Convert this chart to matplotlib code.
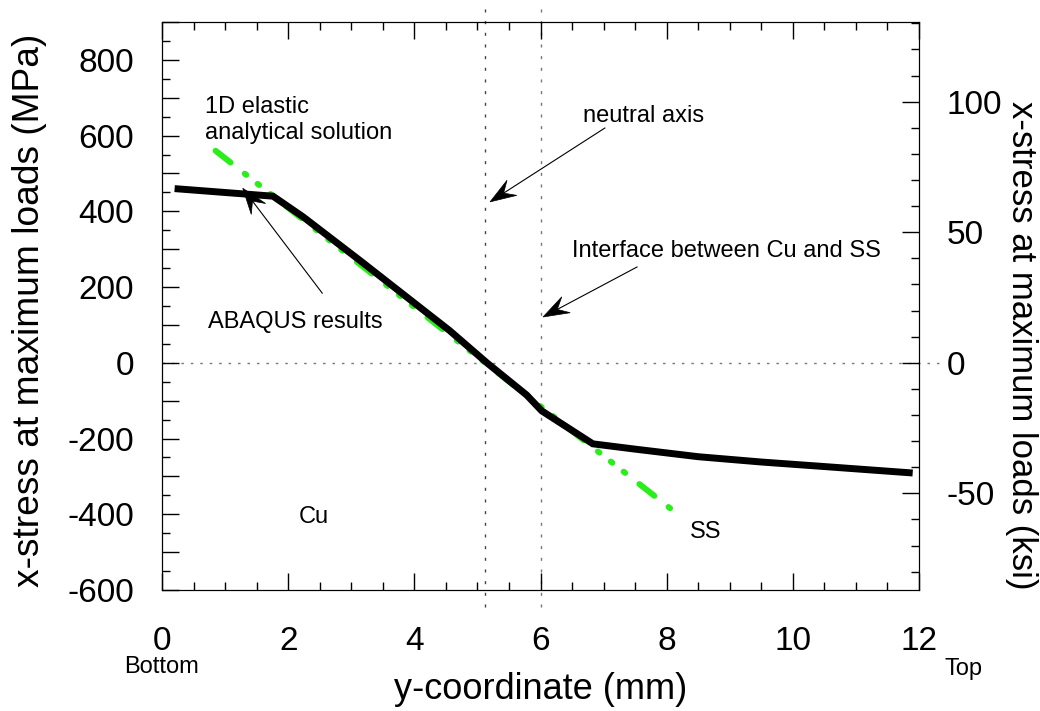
import numpy as np
import matplotlib
matplotlib.use("Agg")
import matplotlib.pyplot as plt
from matplotlib.ticker import MultipleLocator, FuncFormatter
from matplotlib.patches import Polygon
from matplotlib.transforms import IdentityTransform

plt.rcParams['font.family'] = ['Liberation Sans', 'DejaVu Sans']
plt.rcParams['axes.unicode_minus'] = False
plt.rcParams['lines.scale_dashes'] = False

# ABAQUS results (black)
abaqus_y = [0.2, 1.76, 2.24, 3.14, 4.56, 5.15, 5.78, 6.02, 6.83, 7.5, 8.5, 9.5, 10.5, 11.9]
abaqus_s = [460, 440, 385, 270, 85, 0, -85, -127, -214, -228, -248, -262, -274, -291]

# 1D elastic analytical solution (green)
elastic_y = [0.85, 8.1]
elastic_s = [560, -390]

neutral_axis = 5.12
interface = 6.0
MPA_PER_KSI = 6.895

fig = plt.figure(figsize=(10.4, 7.11), dpi=100)
ax = fig.add_axes([162/1040, 121/711, 757/1040, 568/711])
ax.set_xlim(0, 12)
ax.set_ylim(-600, 900)

# dotted reference lines (run a bit past the frame)
ax.plot([neutral_axis, neutral_axis], [-645, 945], color='#444444', lw=1,
        dashes=(2.2, 6.2), clip_on=False, zorder=1)
ax.plot([interface, interface], [-645, 945], color='#777777', lw=1,
        dashes=(2.2, 6.2), clip_on=False, zorder=1)
ax.plot([0, 12.33], [0, 0], color='#777777', lw=1, dashes=(1.8, 5),
        clip_on=False, zorder=1)

ax.plot(elastic_y, elastic_s, color='#2aee1a', lw=4.3, dash_capstyle='round',
        dashes=(13.7, 13, 1.4, 10.4, 1.4, 10.4, 1.4, 13), zorder=2)
ax.plot(abaqus_y, abaqus_s, color='black', lw=5, solid_joinstyle='miter',
        solid_capstyle='butt', zorder=3)

# ticks
ax.xaxis.set_major_locator(MultipleLocator(2))
ax.xaxis.set_minor_locator(MultipleLocator(0.5))
ax.yaxis.set_major_locator(MultipleLocator(100))
ax.yaxis.set_minor_locator(MultipleLocator(50))
ax.yaxis.set_major_formatter(FuncFormatter(lambda v, p: '%d' % v if round(v) % 200 == 0 else ''))
ax.tick_params(which='both', direction='in', top=True, right=False, width=1)
ax.tick_params(which='major', length=12)
ax.tick_params(which='minor', length=6)
ax.tick_params(axis='x', labelsize=24, pad=26)
ax.tick_params(axis='y', labelsize=24, pad=20)

ax2 = ax.twinx()
ax2.set_ylim(-600/MPA_PER_KSI, 900/MPA_PER_KSI)
ax2.yaxis.set_major_locator(MultipleLocator(50))
ax2.yaxis.set_minor_locator(MultipleLocator(10))
ax2.tick_params(which='both', direction='in', width=1)
ax2.tick_params(which='major', length=12, labelsize=24, pad=20)
ax2.tick_params(which='minor', length=6)

ax.set_xlabel('y-coordinate (mm)', fontsize=26)
ax.xaxis.set_label_coords(0.5, -0.176)
ax.xaxis.label.set_va('center')
ax.set_ylabel('x-stress at maximum loads (MPa)', fontsize=26.7)
ax.yaxis.set_label_coords(-0.1744, 0.493)
ax.yaxis.label.set_va('center')
ax2.set_ylabel('x-stress at maximum loads (ksi)', fontsize=25, rotation=270)
ax2.yaxis.set_label_coords(1.136, 0.431)
ax2.yaxis.label.set_va('center')
ax2.yaxis.label.set_ha('center')

# annotations
fs = 17
ax.text(0.68, 660, '1D elastic', fontsize=fs, va='baseline')
ax.text(0.68, 591, 'analytical solution', fontsize=fs, va='baseline')
ax.text(6.67, 636, 'neutral axis', fontsize=fs, va='baseline')
ax.text(6.50, 279, 'Interface between Cu and SS', fontsize=fs, va='baseline')
ax.text(0.73, 92, 'ABAQUS results', fontsize=fs, va='baseline')
ax.text(2.16, -423, 'Cu', fontsize=fs, va='baseline')
ax.text(8.37, -463, 'SS', fontsize=fs, va='baseline')
ax.text(0, -819, 'Bottom', fontsize=fs, ha='center', va='baseline', clip_on=False)
ax.text(12.41, -825, 'Top', fontsize=fs, va='baseline', clip_on=False)

arrows = [((7.02, 620), (5.20, 425)),
          ((7.53, 253), (6.04, 121)),
          ((2.54, 184), (1.28, 461))]
for tail, tip in arrows:
    p0 = ax.transData.transform(tail)
    p1 = ax.transData.transform(tip)
    u = (p1 - p0) / np.hypot(*(p1 - p0))
    n = np.array([-u[1], u[0]])
    L, W = 26, 9
    back = p1 - 0.62 * L * u
    bx, by = ax.transData.inverted().transform(back)
    ax.plot([tail[0], bx], [tail[1], by], color='black', lw=0.8, zorder=4)
    head = np.array([p1, p1 - L * u + W * n, back, p1 - L * u - W * n])
    fig.patches.append(Polygon(head, closed=True, transform=IdentityTransform(),
                               facecolor='black', edgecolor='black', lw=0.5,
                               figure=fig))

fig.savefig('out.png', dpi=100)
